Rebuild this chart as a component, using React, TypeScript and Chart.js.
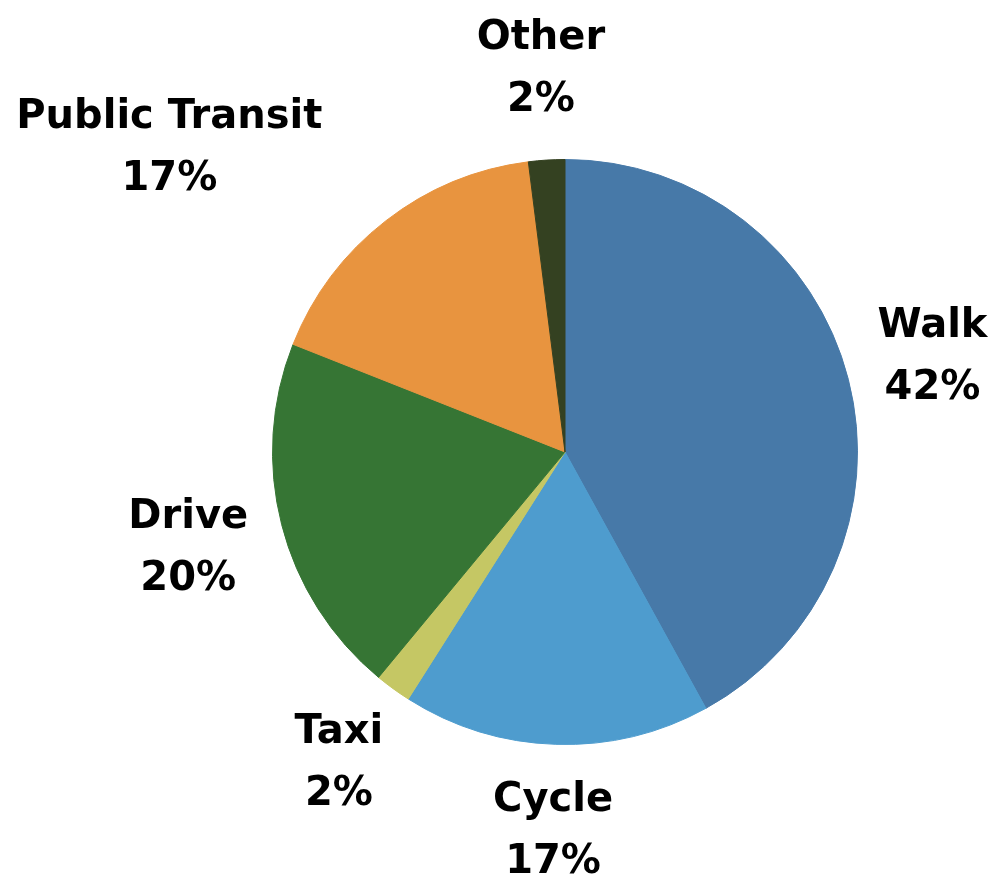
import React, { useEffect, useRef } from "react";
import { Chart, registerables } from "chart.js";

Chart.register(...registerables);

const categories = ["Walk", "Cycle", "Taxi", "Drive", "Public Transit", "Other"];
const shares = [42, 17, 2, 20, 17, 2];
const colors = ["#4779A8", "#4E9CCE", "#C5C764", "#367534", "#E8943F", "#344121"];

// label placement: angle override in degrees from top (null = slice middle), distance as multiple of radius
const labelAngle: (number | null)[] = [null, null, null, null, 307.5, null];
const labelDist = [1.297, 1.3, 1.315, 1.33, 1.705, 1.31];

const labelPlugin = {
  id: "outsideLabels",
  afterDatasetsDraw(chart: any) {
    const ctx = chart.ctx;
    const meta = chart.getDatasetMeta(0);
    const total = shares.reduce((a, b) => a + b, 0);
    ctx.save();
    ctx.fillStyle = "#000";
    ctx.font = "bold 40px 'DejaVu Sans', 'Noto Sans', sans-serif";
    ctx.textAlign = "center";
    ctx.textBaseline = "middle";
    meta.data.forEach((arc: any, i: number) => {
      const { x, y, startAngle, endAngle, outerRadius } = arc.getProps(
        ["x", "y", "startAngle", "endAngle", "outerRadius"],
        true
      );
      let a = (startAngle + endAngle) / 2;
      if (labelAngle[i] !== null) a = ((labelAngle[i] as number) - 90) * Math.PI / 180;
      const d = outerRadius * labelDist[i];
      const cx = x + Math.cos(a) * d;
      const cy = y + Math.sin(a) * d;
      const pct = Math.round((shares[i] / total) * 100) + "%";
      ctx.fillText(categories[i], cx, cy - 31);
      ctx.fillText(pct, cx, cy + 31);
    });
    ctx.restore();
  },
};

export default function App() {
  const ref = useRef<HTMLCanvasElement>(null);
  useEffect(() => {
    if (!ref.current) return;
    const chart = new Chart(ref.current, {
      type: "pie",
      data: {
        labels: categories,
        datasets: [
          {
            data: shares,
            backgroundColor: colors,
            borderColor: colors,
            borderWidth: 1,
          },
        ],
      },
      options: {
        animation: false,
        responsive: false,
        maintainAspectRatio: false,
        layout: { padding: { left: 272, right: 132, top: 159, bottom: 138 } },
        plugins: { legend: { display: false }, tooltip: { enabled: false } },
      },
      plugins: [labelPlugin],
    });
    return () => chart.destroy();
  }, []);
  return (
    <div style={{ position: "absolute", left: 0, top: 0, width: 990, height: 883, background: "#fff" }}>
      <canvas ref={ref} width={990} height={883} style={{ width: 990, height: 883 }} />
    </div>
  );
}
